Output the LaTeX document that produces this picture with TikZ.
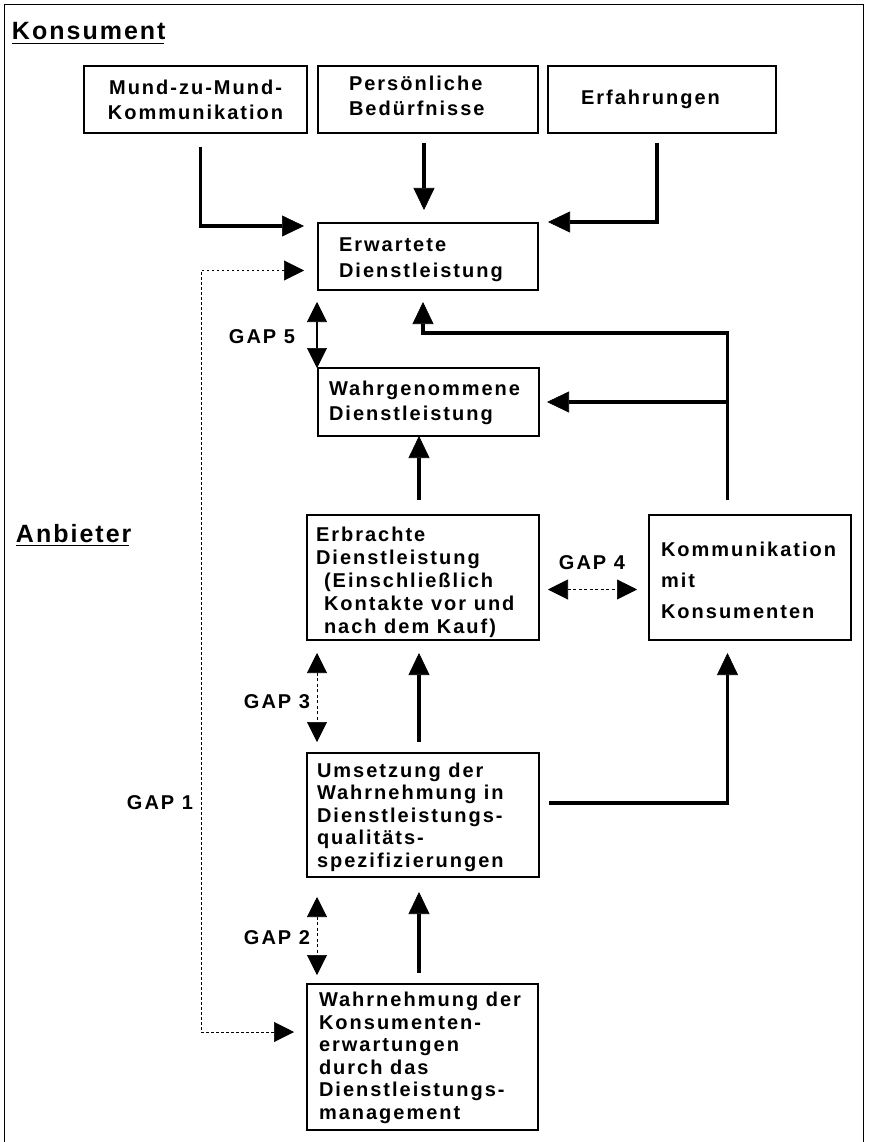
\documentclass[tikz,border=0pt]{standalone}
\usepackage{fontspec}
\setmainfont{Liberation Sans}
\newfontfamily\boxfont{Liberation Sans}[LetterSpace=10]
\newfontfamily\headfont{Liberation Sans}[LetterSpace=8]
\usetikzlibrary{arrows.meta,calc}
\begin{document}
\begin{tikzpicture}[x=1pt,y=-1pt,
  frame/.style={line width=1.3pt},
  boxshape/.style={draw, line width=1.3pt, inner sep=0pt, outer sep=0pt, anchor=north west},
  txt/.style={inner sep=0pt, outer sep=0pt, align=left, font={\boxfont\bfseries\fontsize{20}{22.5}\selectfont}},
  head/.style={inner sep=0pt, outer sep=0pt, font={\headfont\bfseries\fontsize{25}{29}\selectfont}},
  uline/.style={line width=1.8pt},
  thickarrow/.style={line width=3.7pt, -{Triangle[length=22pt,width=21pt,line width=0.6pt]}},
  gapsolid/.style={line width=1.6pt, {Triangle[length=20pt,width=20pt,line width=0.6pt]}-{Triangle[length=20pt,width=20pt,line width=0.6pt]}},
  gapdash/.style={gapsolid, line width=1pt, dash pattern=on 3pt off 2.5pt},
  gapdot/.style={gapsolid, line width=1pt, dash pattern=on 2.5pt off 2.5pt},
]
\useasboundingbox (0,0) rectangle (870,1142);
% frame
\draw[frame] (4.5,1142) -- (4.5,4.5) -- (863.5,4.5) -- (863.5,1142);
% headings
\node[head, anchor=base west] (kons) at (12,40) {Konsument};
\draw[uline] ($(kons.base west)+(0,3.5)$) -- ($(kons.base east)+(-2,3.5)$);
\node[head, anchor=base west] (anb) at (16,542) {Anbieter};
\draw[uline] ($(anb.base west)+(0,3.5)$) -- ($(anb.base east)+(-2,3.5)$);
% boxes
\node[boxshape, txt, align=center, minimum width=223pt, minimum height=67pt,
      font={\boxfont\bfseries\fontsize{20}{25}\selectfont}] (m1) at (84,66) {Mund-zu-Mund-\\Kommunikation};
\node[boxshape, minimum width=220pt, minimum height=67pt] (m2) at (318,66) {};
\node[txt, anchor=west, font={\boxfont\bfseries\fontsize{20}{25}\selectfont}] (m2T) at ($(m2.west)+(31,-4)$) {Persönliche\\Bedürfnisse};
\node[boxshape, minimum width=228pt, minimum height=67pt] (m3) at (548,66) {};
\node[txt, anchor=west] (m3T) at ($(m3.west)+(33,0)$) {Erfahrungen};

\node[boxshape, minimum width=220pt, minimum height=67pt] (erw) at (318,223) {};
\node[txt, anchor=west, font={\boxfont\bfseries\fontsize{20}{26}\selectfont}] (erwT) at ($(erw.west)+(21,3)$) {Erwartete\\Dienstleistung};

\node[boxshape, minimum width=221pt, minimum height=68pt] (wahrg) at (318,368) {};
\node[txt, anchor=west, font={\boxfont\bfseries\fontsize{20}{24.5}\selectfont}] (wahrgT) at ($(wahrg.west)+(11,1)$) {Wahrgenommene\\Dienstleistung};

\node[boxshape, minimum width=232pt, minimum height=125pt] (erbr) at (307,515) {};
\node[txt, anchor=west, font={\boxfont\bfseries\fontsize{20}{23}\selectfont}] (erbrT) at ($(erbr.west)+(9,5)$) {Erbrachte\\Dienstleistung\\\hspace*{8pt}(Einschließlich\\\hspace*{8pt}Kontakte vor und\\\hspace*{8pt}nach dem Kauf)};

\node[boxshape, minimum width=202pt, minimum height=125pt] (komm) at (649,515) {};
\node[txt, anchor=west, font={\boxfont\bfseries\fontsize{20}{31}\selectfont}] (kommT) at ($(komm.west)+(12,3)$) {Kommunikation\\mit\\Konsumenten};

\node[boxshape, minimum width=232pt, minimum height=124pt] (ums) at (307,753) {};
\node[txt, anchor=west] (umsT) at ($(ums.west)+(10,2)$) {Umsetzung der\\Wahrnehmung in\\Dienstleistungs-\\qualitäts-\\spezifizierungen};

\node[boxshape, minimum width=231pt, minimum height=146pt] (wahrn) at (307,984) {};
\node[txt, anchor=west] (wahrnT) at ($(wahrn.west)+(12,1)$) {Wahrnehmung der\\Konsumenten-\\erwartungen\\durch das\\Dienstleistungs-\\management};

% gap labels
\node[txt] (g5) at (262,337) {GAP 5};
\node[txt] (g4) at (592,563) {GAP 4};
\node[txt] (g3) at (277,702) {GAP 3};
\node[txt] (g2) at (277,938) {GAP 2};
\node[txt] (g1) at (160,803) {GAP 1};

% consumer inputs
\draw[thickarrow] ($(m1.south)+(5,14)$) |- ($(erw.north west)+(-14,3)$);
\draw[thickarrow] ($(m2.south)+(-4,10)$) -- ($(erw.north)+(-4,-13)$);
\draw[thickarrow] ($(m3.south)+(-5,10)$) |- ($(erw.north east)+(10,-1)$);

% communication feedback
\coordinate (kt) at ($(komm.north)+(-22.5,-15)$);
\draw[thickarrow] (kt) |- ($(erw.south)+(-5,43)$) -- ($(erw.south)+(-5,12)$);
\draw[thickarrow] (kt |- wahrg.east) -- ($(wahrg.east)+(8,0)$);

% provider chain
\draw[thickarrow] ($(erbr.north)+(-4,-15)$) -- ($(wahrg.south)+(-9.5,0)$);
\draw[thickarrow] ($(ums.north)+(-4,-11)$) -- ($(erbr.south)+(-4,13)$);
\draw[thickarrow] ($(wahrn.north)+(-3.5,-11)$) -- ($(ums.south)+(-4,15)$);
\draw[thickarrow] ($(ums.east)+(10,-12)$) -| ($(komm.south)+(-22.5,13)$);

% gaps
\draw[gapsolid] ($(erw.south west)+(-1,12)$) -- ($(wahrg.north west)+(-1,0)$);
\draw[gapdash] ($(erbr.east)+(9,12)$) -- ($(komm.west)+(-12,12)$);
\draw[gapdash] ($(erbr.south west)+(10,13)$) -- ($(ums.north west)+(10,-11)$);
\draw[gapdash] ($(ums.south west)+(10,20)$) -- ($(wahrn.north west)+(10,-9)$);
\coordinate (g1c) at (201,650);
\draw[gapdot] ($(erw.west)+(-14,14)$) -| (g1c) |- ($(wahrn.west)+(-13,-25)$);
\end{tikzpicture}
\end{document}
